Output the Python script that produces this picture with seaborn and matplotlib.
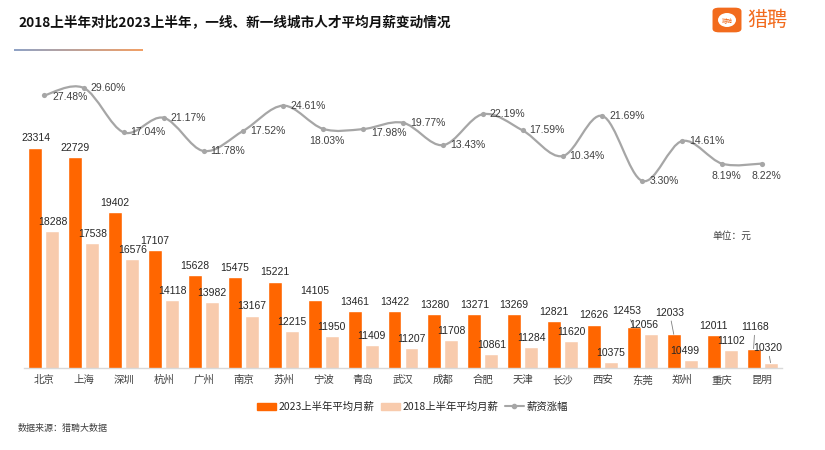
import numpy as np
import pandas as pd
import matplotlib
matplotlib.use('Agg')
import matplotlib.pyplot as plt
import seaborn as sns
from matplotlib.path import Path
from matplotlib.patches import PathPatch, FancyBboxPatch, Ellipse, Patch
from matplotlib.lines import Line2D
from matplotlib.colors import LinearSegmentedColormap

# 数据
cities = ['北京', '上海', '深圳', '杭州', '广州', '南京', '苏州', '宁波', '青岛', '武汉',
          '成都', '合肥', '天津', '长沙', '西安', '东莞', '郑州', '重庆', '昆明']
salary_2023 = [23314, 22729, 19402, 17107, 15628, 15475, 15221, 14105, 13461, 13422,
               13280, 13271, 13269, 12821, 12626, 12453, 12033, 12011, 11168]
salary_2018 = [18288, 17538, 16576, 14118, 13982, 13167, 12215, 11950, 11409, 11207,
               11708, 10861, 11284, 11620, 10375, 12056, 10499, 11102, 10320]
growth = [27.48, 29.60, 17.04, 21.17, 11.78, 17.52, 24.61, 18.03, 17.98, 19.77,
          13.43, 22.19, 17.59, 10.34, 21.69, 3.30, 14.61, 8.19, 8.22]
s23 = '2023上半年平均月薪'
s18 = '2018上半年平均月薪'
s_line = '薪资涨幅'

ORANGE = '#FF6600'
PEACH = '#F8CBAD'
GREY = '#A6A6A6'
TXT = '#262626'
NUM_FONT = ['Liberation Sans', 'Noto Sans CJK SC']

df = pd.DataFrame({
    'city': cities * 2,
    'salary': salary_2023 + salary_2018,
    'series': [s23] * len(cities) + [s18] * len(cities),
})

sns.set_style('white')
plt.rcParams['font.family'] = ['Noto Sans CJK SC', 'DejaVu Sans']

fig = plt.figure(figsize=(8.25, 4.5), dpi=100)
ax = fig.add_axes([0.0291, 0.1822, 0.9188, 0.64])

sns.barplot(data=df, x='city', y='salary', hue='series', order=cities,
            hue_order=[s23, s18], palette={s23: ORANGE, s18: PEACH},
            width=0.852, gap=0.18, legend=False, ax=ax, saturation=1)
ax.set_ylim(10000, 27400)
ax.set_xlim(-0.5, len(cities) - 0.5)
ax.set_xlabel('')
ax.set_ylabel('')
ax.set_yticks([])
for side in ['top', 'right', 'left']:
    ax.spines[side].set_visible(False)
ax.spines['bottom'].set_color('#D9D9D9')
ax.spines['bottom'].set_linewidth(1)
ax.tick_params(axis='x', length=0, pad=5, labelsize=7.5, labelcolor='#404040')
ax.set_xticks(np.arange(-0.5, len(cities), 1), minor=True)
ax.tick_params(axis='x', which='minor', length=3, color='#D9D9D9')

# 柱子数值标签（特殊位置的用引线）
special = {
    (0, '东莞'): (-5, 8, True),
    (1, '东莞'): (-5, 3, False),
    (0, '郑州'): (-3, 12, True),
    (1, '郑州'): (-4, 3, False),
    (0, '昆明'): (1, 12, True),
    (1, '昆明'): (-2, 7, True),
}
for k, cont in enumerate(ax.containers):
    for bar, city in zip(cont.patches, cities):
        cx = bar.get_x() + bar.get_width() / 2
        top = bar.get_height()
        dx, dy, leader = special.get((k, city), (0, 3, False))
        ax.annotate(f'{int(round(top))}', xy=(cx, top), xytext=(dx, dy),
                    textcoords='offset points', ha='center', va='bottom',
                    fontsize=7.5, color=TXT, zorder=5, family=NUM_FONT,
                    arrowprops=dict(arrowstyle='-', color='#7F7F7F', lw=0.6,
                                    shrinkA=0, shrinkB=0) if leader else None)

# 涨幅折线（平滑）
ax2 = ax.twinx()
ax2.set_ylim(-49.6, 31.86)
ax2.set_xlim(ax.get_xlim())
ax2.axis('off')
xs = np.arange(len(cities), dtype=float)
pts = np.column_stack([xs, growth])
verts = [pts[0]]
codes = [Path.MOVETO]
n = len(pts)
for i in range(n - 1):
    p_prev = pts[max(i - 1, 0)]
    p0 = pts[i]
    p1 = pts[i + 1]
    p_next = pts[min(i + 2, n - 1)]
    c1 = p0 + (p1 - p_prev) / 6
    c2 = p1 - (p_next - p0) / 6
    verts += [c1, c2, p1]
    codes += [Path.CURVE4] * 3
ax2.add_patch(PathPatch(Path(verts, codes), fill=False, edgecolor=GREY, lw=1.6, zorder=3))
sns.scatterplot(x=xs, y=growth, ax=ax2, color=GREY, s=14, edgecolor=GREY,
                linewidth=0, zorder=4, legend=False)

below = {'宁波', '重庆', '昆明'}
line_off = {'北京': (6, -1), '苏州': (5, 0), '青岛': (6, -3)}
for x, g, city in zip(xs, growth, cities):
    if city in below:
        ax2.annotate(f'{g:.2f}%', xy=(x, g), xytext=(3, -5), textcoords='offset points',
                     ha='center', va='top', fontsize=7.5, color='#404040', family=NUM_FONT)
    else:
        dx, dy = line_off.get(city, (5, 0))
        ax2.annotate(f'{g:.2f}%', xy=(x, g), xytext=(dx, dy), textcoords='offset points',
                     ha='left', va='center', fontsize=7.5, color='#404040', family=NUM_FONT)

fig.text(712 / 825, 1 - 236 / 450, '单位：元', fontsize=7, color='#404040', va='center')

# 图例
handles = [Patch(color=ORANGE), Patch(color=PEACH),
           Line2D([0], [0], color=GREY, lw=1.5, marker='o', markersize=3)]
fig.legend(handles, [s23, s18, s_line], loc='center', bbox_to_anchor=(0.5, 1 - 407 / 450),
           ncol=3, frameon=False, fontsize=7.5, handlelength=1.8, handleheight=0.8,
           columnspacing=0.6, handletextpad=0.3)

# 标题与来源
fig.text(18 / 825, 1 - 23 / 450, '2018上半年对比2023上半年，一线、新一线城市人才平均月薪变动情况',
         fontsize=9.8, fontweight='bold', color='#111111', va='center')
fig.text(18 / 825, 1 - 428 / 450, '数据来源：猎聘大数据', fontsize=6.5, color='#404040', va='center')

# 标题下渐变线
gax = fig.add_axes([14 / 825, 1 - 51 / 450, 129 / 825, 2 / 450])
cmap = LinearSegmentedColormap.from_list('g', ['#8FA3C6', '#F2A066'])
gax.imshow(np.linspace(0, 1, 200).reshape(1, -1), aspect='auto', cmap=cmap)
gax.axis('off')

# 猎聘 logo
fig.add_artist(FancyBboxPatch((715 / 825, 1 - 31 / 450), 24 / 825, 22 / 450,
                              boxstyle='round,pad=0.003,rounding_size=0.008',
                              transform=fig.transFigure, facecolor='#F26B1D', edgecolor='none'))
fig.add_artist(Ellipse((727 / 825, 1 - 20 / 450), 18 / 825, 14 / 450,
                       transform=fig.transFigure, facecolor='white', edgecolor='none'))
fig.text(727 / 825, 1 - 20 / 450, '猎聘', fontsize=4, color='#F26B1D', ha='center', va='center')
fig.text(747 / 825, 1 - 20 / 450, '猎聘', fontsize=14.5, color='#F26B1D', ha='left', va='center')

fig.savefig('out.png', dpi=100)
